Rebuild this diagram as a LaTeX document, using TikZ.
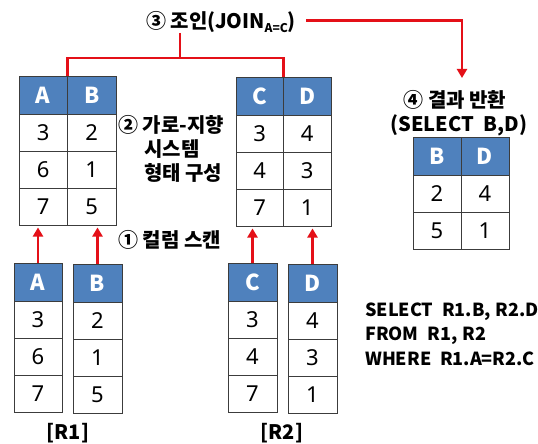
\documentclass[tikz,border=0pt]{standalone}
\usepackage{fontspec}
\setmainfont{Noto Sans}
\newfontfamily\krfont{Noto Sans CJK KR}
\usetikzlibrary{arrows.meta,calc}
\definecolor{hblue}{RGB}{79,129,189}
\definecolor{rline}{RGB}{228,16,24}
\definecolor{gridc}{RGB}{60,60,60}
\newcommand{\hcel}[5]{\node[headcell, minimum width=#4pt] (#1) at (#2,#3) {#5};}
\newcommand{\dcel}[5]{\node[datacell, minimum width=#4pt] (#1) at (#2,#3) {#5};}
\newcommand{\colthree}[8]{%
  \hcel{#1-h}{#2}{#3}{#4}{#5}%
  \dcel{#1-1}{#2}{#3+38}{#4}{#6}%
  \dcel{#1-2}{#2}{#3+75}{#4}{#7}%
  \dcel{#1-3}{#2}{#3+112}{#4}{#8}%
}
\begin{document}
\begin{tikzpicture}[x=1pt,y=-1pt,
  cellbase/.style={draw=gridc, line width=0.9pt, anchor=north west, inner sep=0pt, outer sep=0pt},
  headcell/.style={cellbase, fill=hblue, text=white, font=\krfont\bfseries\fontsize{22}{22}\selectfont, minimum height=38pt},
  datacell/.style={cellbase, fill=white, font=\fontsize{22}{22}\selectfont, minimum height=37pt},
  krlabel/.style={font=\krfont\bfseries\fontsize{20}{20}\selectfont, inner sep=0pt},
  latlabel/.style={font=\krfont\bfseries\fontsize{20}{20}\selectfont, inner sep=0pt},
  sqltext/.style={font=\krfont\bfseries\fontsize{18}{18}\selectfont, inner sep=0pt, anchor=west},
  redline/.style={draw=rline, line width=2.2pt},
  redarrow/.style={redline, -{Triangle[width=10pt,length=9pt]}},
]
\useasboundingbox (0,0) rectangle (538,444);
\fill[white] (0,0) rectangle (538,444);

% top tables
\colthree{tA}{19}{76}{48.5}{A}{3}{6}{7}
\colthree{tB}{67.5}{76}{48.5}{B}{2}{1}{5}
\colthree{tC}{236}{77}{47.5}{C}{3}{4}{7}
\colthree{tD}{283.5}{77}{47.5}{D}{4}{3}{1}
% bottom columns
\colthree{bA}{14}{263}{48}{A}{3}{6}{7}
\colthree{bB}{73}{264}{49}{B}{2}{1}{5}
\colthree{bC}{228}{263}{49}{C}{3}{4}{7}
\colthree{bD}{288}{264}{49}{D}{4}{3}{1}
% result table
\hcel{rB-h}{413}{137}{48}{B}
\dcel{rB-1}{413}{175}{48}{2}
\dcel{rB-2}{413}{212}{48}{5}
\hcel{rD-h}{461}{137}{48}{D}
\dcel{rD-1}{461}{175}{48}{4}
\dcel{rD-2}{461}{212}{48}{1}

% labels
\node[krlabel] (join) at (221,22) {③ 조인(JOIN\raisebox{-4pt}{\fontsize{12}{12}\selectfont A=C})};
\node[krlabel, anchor=west] (s2a) at (118,125) {② 가로-지향};
\node[krlabel, anchor=west] (s2b) at (144,149) {시스템};
\node[krlabel, anchor=west] (s2c) at (144,173) {형태 구성};
\node[krlabel] (s4a) at (455,100) {④ 결과 반환};
\node[latlabel] (s4b) at (459,125) {(SELECT\hspace{0.25em} B,D)};
\node[krlabel, anchor=west] (s1) at (118,240) {① 컬럼 스캔};
\node[sqltext] (q1) at (365,312) {SELECT\hspace{0.25em} R1.B,\hspace{0.05em} R2.D};
\node[sqltext] (q2) at (365,336) {FROM\hspace{0.25em} R1,\hspace{0.05em} R2};
\node[sqltext] (q3) at (365,359) {WHERE\hspace{0.25em} R1.A=R2.C};
\node[latlabel] (r1) at (68,433) {[R1]};
\node[latlabel] (r2) at (282,433) {[R2]};

% join connectors
\coordinate (jbar) at (180,58);
\coordinate (jtip) at (462,78);
\draw[redline] (join.south -| jbar) -- (jbar);
\draw[redline] (tA-h.north east) -- (tA-h.north east |- jbar) -- (tC-h.north east |- jbar) -- (tC-h.north east);
\draw[redarrow] ([xshift=10pt,yshift=1.5pt]join.east) -| (jtip);

% scan arrows
\draw[redarrow, shorten >=2.5pt] (bA-h.north) -- (bA-h.north |- tA-3.south);
\draw[redarrow, shorten >=2.5pt] (bB-h.north) -- (bB-h.north |- tB-3.south);
\draw[redarrow, shorten >=2.5pt] (bC-h.north) -- (bC-h.north |- tC-3.south);
\draw[redarrow, shorten >=2.5pt] (bD-h.north) -- (bD-h.north |- tD-3.south);
\end{tikzpicture}
\end{document}
